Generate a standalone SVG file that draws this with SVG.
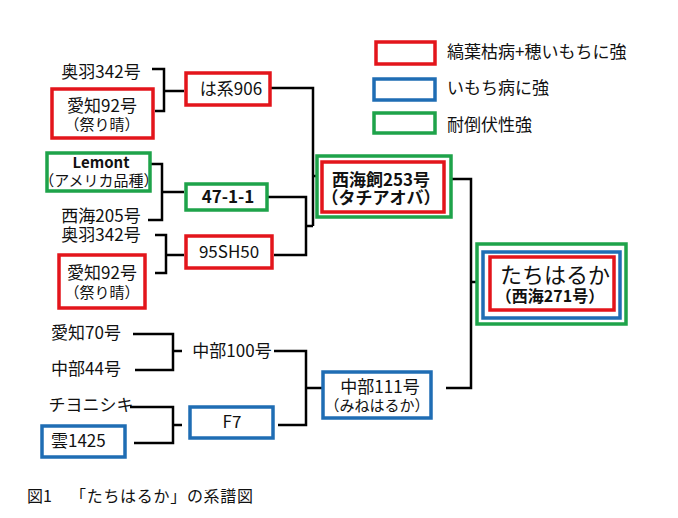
<svg xmlns="http://www.w3.org/2000/svg" width="678" height="518" viewBox="0 0 678 518">
<style>
text{font-family:"Noto Sans CJK JP","Noto Sans",sans-serif;font-size:17px;fill:#111;text-anchor:middle}
.l{text-anchor:start}
.s{font-size:15px}
.b{font-weight:bold}
.r{fill:#fff;stroke:#e3151b;stroke-width:3.5}
.u{fill:#fff;stroke:#1f6db4;stroke-width:3.5}
.g{fill:#fff;stroke:#1ea34a;stroke-width:3.5}
.c{fill:none;stroke:#000;stroke-width:2.5}
</style>
<rect width="678" height="518" fill="#fff"/>
<g id="connectors">
<path class="c" d="M152,69 H164 V111 H155 M164,91 H184"/>
<path class="c" d="M270,88 H313 V226 M313,176 H318"/>
<path class="c" d="M150,164 H162 V220 H148 M162,192 H184"/>
<path class="c" d="M155,235 H166 V273 H155 M166,255 H184"/>
<path class="c" d="M268,197 H306 V255 H274 M306,226 H313"/>
<path class="c" d="M452,179 H471 V388 H446 M471,282 H477"/>
<path class="c" d="M133,334 H173 V370 H135 M173,351 H182"/>
<path class="c" d="M274,351 H306 V425 H278 M306,388 H322"/>
<path class="c" d="M130,407 H173 V443 H134 M173,425 H182"/>
</g>
<g id="legend">
<rect class="r" x="376" y="42" width="59" height="22"/>
<text class="l" x="447" y="58">縞葉枯病+穂いもちに強</text>
<rect class="u" x="374" y="79" width="61" height="21"/>
<text class="l" x="447" y="94">いもち病に強</text>
<rect class="g" x="374" y="113" width="61" height="20"/>
<text class="l" x="447" y="131">耐倒伏性強</text>
</g>
<g id="ou342a"><text x="101" y="78">奥羽342号</text></g>
<g id="aichi92a">
<rect class="r" x="52" y="89" width="101" height="49"/>
<text x="102" y="112">愛知92号<tspan x="102" y="130" class="s">（祭り晴）</tspan></text>
</g>
<g id="ha906">
<rect class="r" x="186" y="73" width="84" height="32"/>
<text x="231" y="95">は系906</text>
</g>
<g id="lemont">
<rect class="g" x="47" y="153" width="103" height="38"/>
<text class="b s" x="101" y="168">Lemont<tspan x="99" y="186" style="font-weight:normal">（アメリカ品種）</tspan></text>
</g>
<g id="saikai205"><text x="101" y="222">西海205号</text></g>
<g id="n47"><rect class="g" x="186" y="184" width="81" height="26"/><text class="b" x="228" y="203">47-1-1</text></g>
<g id="ou342b"><text x="101" y="241">奥羽342号</text></g>
<g id="sh50"><rect class="r" x="186" y="236" width="86" height="32"/><text x="229" y="258">95SH50</text></g>
<g id="aichi92b">
<rect class="r" x="59" y="255" width="86" height="53"/>
<text x="102" y="279">愛知92号<tspan x="102" y="298" class="s">（祭り晴）</tspan></text>
</g>
<g id="saikai253">
<rect class="g" x="317" y="156" width="134" height="61"/>
<rect class="r" x="322" y="162" width="122" height="50" stroke-width="3"/>
<text class="b" x="381" y="186">西海飼253号<tspan x="381" y="204">（タチアオバ）</tspan></text>
</g>
<g id="tachiharuka">
<rect class="g" x="477" y="244" width="149" height="80"/>
<rect class="u" x="483" y="252" width="137" height="66"/>
<rect class="r" x="490" y="257" width="124" height="53"/>
<text x="555" y="283" style="font-size:22px">たちはるか<tspan class="b" x="550" y="302" style="font-size:16px">（西海271号）</tspan></text>
</g>
<g id="aichi70"><text x="86" y="339">愛知70号</text></g>
<g id="chubu44"><text x="86" y="375">中部44号</text></g>
<g id="chubu100"><text x="232" y="357">中部100号</text></g>
<g id="chiyonishiki"><text x="91" y="411">チヨニシキ</text></g>
<g id="kumo1425"><rect class="u" x="42" y="426" width="83" height="31"/><text class="l" x="51" y="447">雲1425</text></g>
<g id="f7"><rect class="u" x="190" y="407" width="83" height="31"/><text x="232" y="428">F7</text></g>
<g id="chubu111">
<rect class="u" x="323" y="372" width="108" height="46"/>
<text x="380" y="393">中部111号<tspan x="377" y="411" class="s">（みねはるか）</tspan></text>
</g>
<g id="caption"><text class="l" x="27" y="502" style="font-size:16px">図1<tspan x="70" textLength="183">「たちはるか」の系譜図</tspan></text></g>
</svg>
